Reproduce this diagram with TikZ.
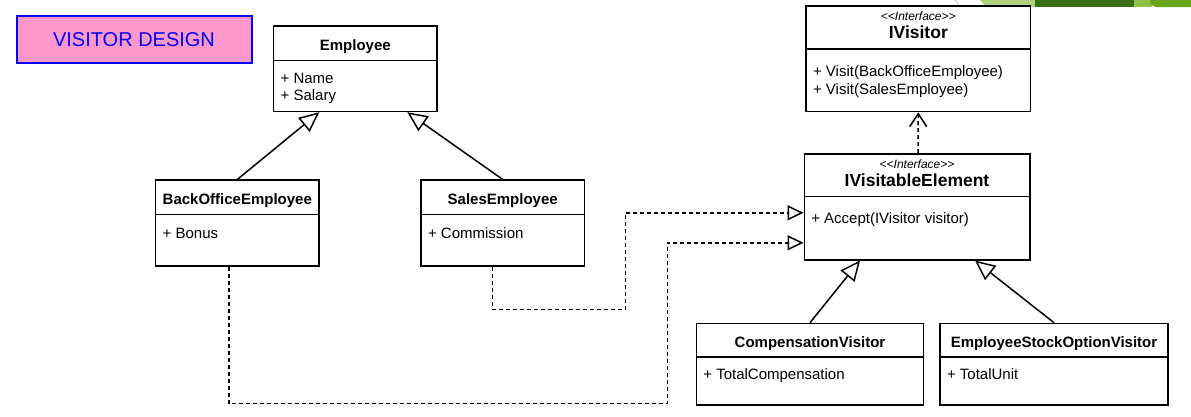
\documentclass[tikz,border=0pt]{standalone}
\usepackage{fontspec}
\setmainfont{Liberation Sans}
\usetikzlibrary{shapes.multipart,arrows.meta}

\definecolor{titlepink}{RGB}{255,153,204}
\definecolor{titleblue}{RGB}{0,0,255}
\definecolor{leafA}{RGB}{176,209,124}
\definecolor{leafB}{RGB}{58,111,20}
\definecolor{leafC}{RGB}{145,192,72}
\definecolor{leafD}{RGB}{106,166,26}

% <<Interface>> without the guillemet ligature
\newcommand{\stereo}{<\kern0pt<Interface>\kern0pt>}
% class header / body parts: width, height, (top pad), text
\newcommand{\classhead}[3]{\parbox[c][#2][c]{#1}{\centering\vspace*{6pt}\fontsize{15}{18}\selectfont\bfseries #3\par}}
\newcommand{\ifacehead}[3]{\parbox[c][#2][t]{#1}{\centering\vspace*{5pt}{\fontsize{12}{12}\selectfont\itshape\stereo\par}{\fontsize{17.5}{18}\selectfont\bfseries #3\par}}}
\newcommand{\classbody}[4]{\parbox[c][#2][t]{#1}{\vspace*{#3}\fontsize{15}{17.5}\selectfont\leftskip=7pt\relax\strut #4\par}}

\begin{document}
\begin{tikzpicture}[x=1pt, y=-1pt,
		umlclass/.style={rectangle split, rectangle split parts=2, draw, line width=1.5pt, inner sep=0pt, fill=white},
		titlebox/.style={draw=titleblue, fill=titlepink, text=titleblue, line width=2pt, minimum width=235pt, minimum height=47pt, inner sep=0pt, font=\fontsize{20}{24}\selectfont},
		inherits/.style={line width=1.5pt, -{Triangle[open, length=20pt, width=18pt]}},
		realizes/.style={line width=1.5pt, dash pattern=on 4pt off 3pt, -{Triangle[open, length=16pt, width=15pt]}},
		depends/.style={line width=1.5pt, dash pattern=on 4pt off 3pt, -{Straight Barb[length=13pt, width=17pt]}}]
		\useasboundingbox (0,0) rectangle (1191,416);
		
		% slide decoration, top right
		\fill[leafA] (980,0) .. controls (984,5) .. (992,7) -- (1036,7) -- (1036,0) -- cycle;
		\fill[leafB] (1035,0) rectangle (1135,7);
		\fill[leafC] (1134,0) rectangle (1152,7);
		\fill[leafD] (1150,0) .. controls (1151,5) .. (1156,7) -- (1191,7) -- (1191,0) -- cycle;
		\draw[gray!50, line width=0.6pt] (955,0) .. controls (958,3) .. (959,9);
		
		\node [titlebox] (title) at (134,39.7) {VISITOR DESIGN};
		
		\node [umlclass] (emp) at (355.3,68.8) {\classhead{163.3pt}{32.6pt}{Employee}\nodepart{second}\classbody{163.3pt}{49.7pt}{10pt}{+ Name\\+ Salary}};
		\node [umlclass] (bo) at (237.3,223) {\classhead{163.3pt}{32.6pt}{BackOfficeEmployee}\nodepart{second}\classbody{163.3pt}{50pt}{11pt}{+ Bonus}};
		\node [umlclass] (se) at (502.7,223) {\classhead{163.3pt}{32.6pt}{SalesEmployee}\nodepart{second}\classbody{163.3pt}{50pt}{11pt}{+ Commission}};
		
		\node [umlclass] (iv) at (918.3,58.7) {\ifacehead{224.5pt}{41.4pt}{IVisitor}\nodepart{second}\classbody{224.5pt}{61.3pt}{15pt}{+ Visit(BackOfficeEmployee)\\+ Visit(SalesEmployee)}};
		\node [umlclass] (ive) at (917,206.8) {\ifacehead{225.5pt}{41.4pt}{IVisitableElement}\nodepart{second}\classbody{225.5pt}{61.6pt}{13.4pt}{+ Accept(IVisitor visitor)}};
		
		\node [umlclass] (cv) at (810,364.3) {\classhead{227.3pt}{32pt}{CompensationVisitor}\nodepart{second}\classbody{227.3pt}{46.7pt}{9.7pt}{+ TotalCompensation}};
		\node [umlclass] (esov) at (1054,364.3) {\classhead{228pt}{32pt}{EmployeeStockOptionVisitor}\nodepart{second}\classbody{228pt}{46.7pt}{9.7pt}{+ TotalUnit}};
		
		\draw[inherits]
		(bo.north) -- ([xshift=-36pt]emp.south);
		\draw[inherits]
		(se.north) -- ([xshift=52pt]emp.south);
		\draw[inherits]
		(cv.north) -- ([xshift=-57pt]ive.south);
		\draw[inherits]
		(esov.north) -- ([xshift=58pt]ive.south);
		
		\draw[depends]
		([xshift=1pt]ive.north) -- (iv.south);
		
		\draw[realizes]
		([xshift=-10pt]se.south) |- (625.7,309.3) |- ([yshift=-6pt]ive.west);
		\draw[realizes]
		([xshift=-8.5pt]bo.south) |- (667.5,403.5) |- ([yshift=-36pt]ive.west);
		
		\end{tikzpicture}
\end{document}
